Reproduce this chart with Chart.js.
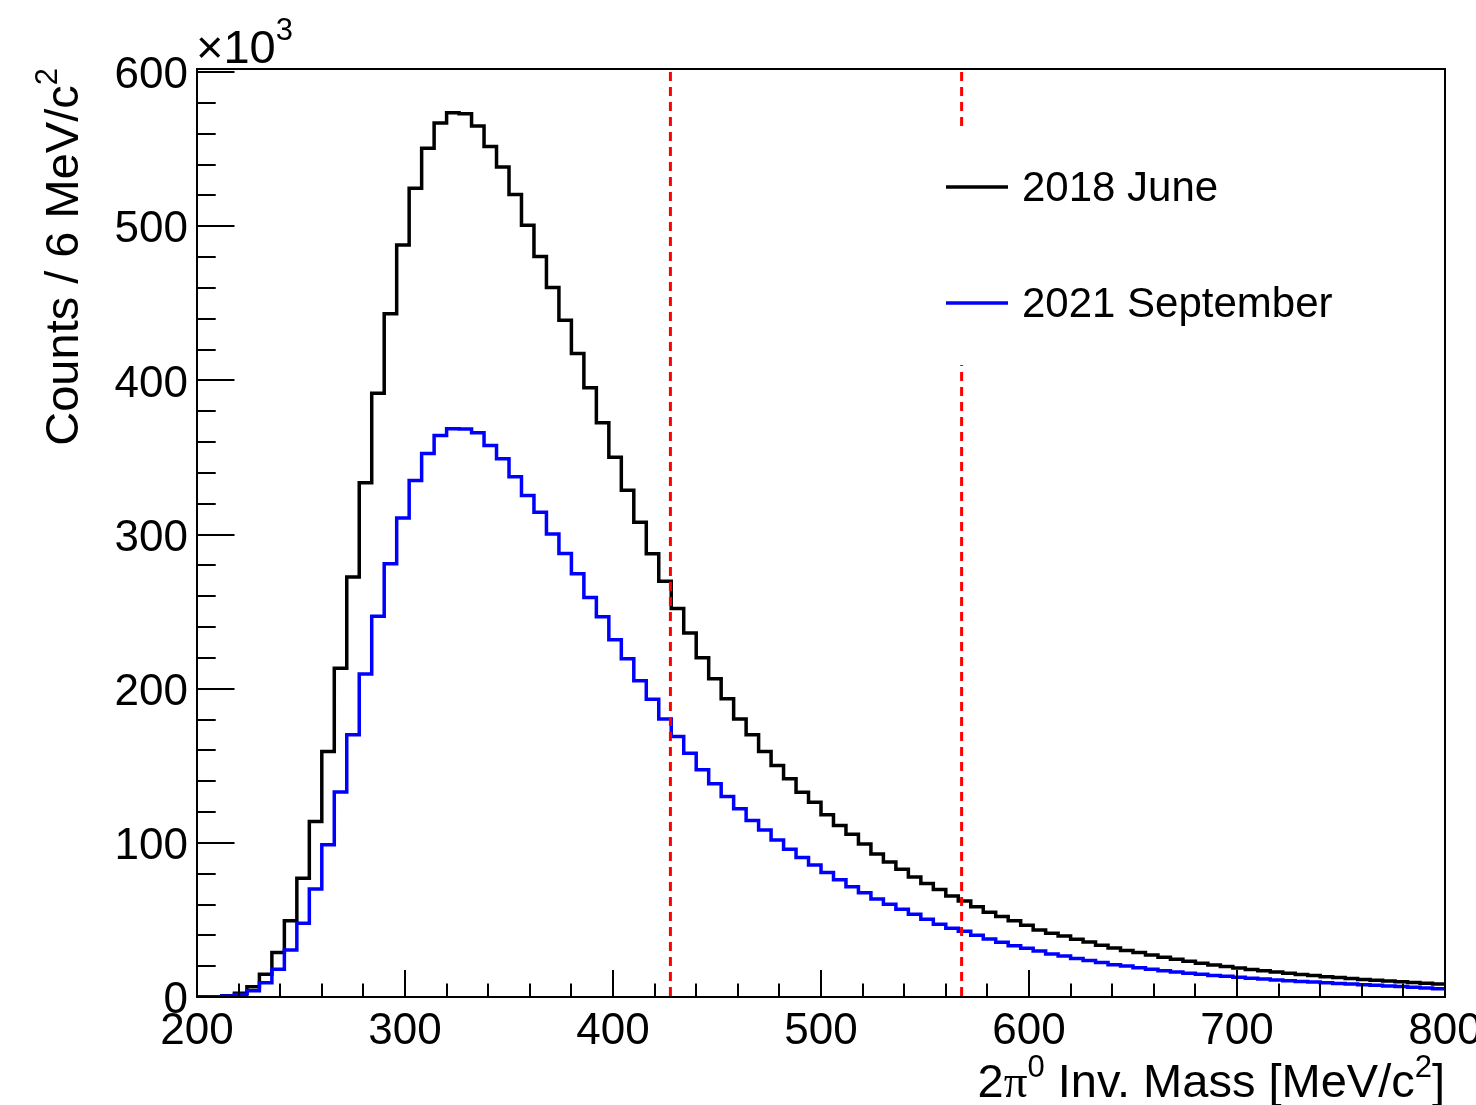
<!DOCTYPE html>
<html><head><meta charset="utf-8">
<script src="https://cdn.jsdelivr.net/npm/chart.js@4.4.1/dist/chart.umd.min.js"></script>
<style>html,body{margin:0;padding:0;background:#fff;}canvas{display:block;}</style>
</head><body>
<canvas id="c" width="1476" height="1105"></canvas>
<script>
// ---- data (counts per 6 MeV/c^2 bin, in units of 10^3) ----
const binStart = 200;
const binWidth = 6;
const june2018 = [0.1, 0.2, 0.8, 2.4, 6.7, 14.7, 28.8, 49.4, 77.1, 113.8,
  159.3, 213.2, 272.5, 333.6, 391.6, 443.3, 487.9, 524.7, 550.6, 567.0,
  573.6, 573.0, 565.0, 551.7, 538.5, 520.6, 500.6, 480.3, 460.2, 439.0,
  417.5, 395.3, 372.5, 350.2, 328.8, 308.0, 287.5, 269.7, 252.0, 236.2,
  220.0, 206.5, 193.5, 180.4, 170.1, 159.3, 150.2, 141.6, 132.9, 126.4,
  118.2, 111.2, 105.6, 99.2, 92.7, 87.5, 82.9, 77.9, 73.6, 69.7,
  65.5, 62.3, 58.6, 55.0, 52.2, 49.4, 46.5, 43.5, 41.3, 39.6,
  37.4, 35.7, 33.6, 31.8, 30.1, 28.8, 27.3, 25.8, 24.5, 23.2,
  21.9, 20.8, 19.8, 18.8, 17.9, 17.0, 16.2, 15.4, 14.6, 13.9,
  13.2, 12.6, 12.0, 11.4, 10.9, 10.4, 9.9, 9.4, 8.9, 8.4];
const sept2021 = [0.05, 0.1, 0.6, 1.7, 4.1, 9.3, 18.0, 30.5, 47.8, 70.1,
  98.7, 133.0, 170.1, 209.5, 247.0, 281.0, 310.8, 335.0, 352.6, 364.3,
  368.6, 368.4, 366.0, 357.8, 349.2, 337.5, 325.3, 314.5, 300.4, 287.7,
  274.5, 259.1, 246.6, 231.8, 219.5, 205.2, 193.1, 180.3, 169.0, 158.2,
  147.4, 138.3, 130.1, 122.1, 114.5, 108.4, 101.9, 95.9, 90.5, 85.7,
  80.7, 76.0, 71.6, 67.7, 63.6, 60.2, 56.9, 53.7, 50.5, 47.2,
  44.6, 42.6, 40.0, 37.7, 35.5, 33.3, 31.6, 29.9, 27.9, 26.6,
  24.9, 23.6, 22.3, 21.0, 20.1, 19.0, 18.0, 17.1, 16.2, 15.4,
  14.7, 14.0, 13.4, 12.8, 12.2, 11.6, 11.1, 10.6, 10.1, 9.7,
  9.3, 8.8, 8.4, 8.0, 7.6, 7.2, 6.8, 6.4, 5.9, 5.4];
const seriesLabels = ['2018 June', '2021 September'];
const cutLines = [427.6, 567.6];
const xTickValues = [200, 300, 400, 500, 600, 700, 800];
const yTickValues = [0, 100, 200, 300, 400, 500, 600];
const xRange = [200, 800];
const yRange = [0, 602];
const minorStep = 20;

// ---- styles ----
const FONT = '"Liberation Sans", Arial, Helvetica, sans-serif';
const colors = ['#000000', '#0000ff'];

function toSteps(vals) {
  const pts = vals.map((v, i) => ({x: binStart + i * binWidth, y: v}));
  pts.push({x: binStart + vals.length * binWidth, y: vals[vals.length - 1]});
  return pts;
}

const datasets = [
  {label: seriesLabels[0], data: toSteps(june2018), borderColor: colors[0], borderWidth: 3.5, stepped: true, pointRadius: 0, fill: false, order: 3},
  {label: seriesLabels[1], data: toSteps(sept2021), borderColor: colors[1], borderWidth: 3.5, stepped: true, pointRadius: 0, fill: false, order: 2}
];
cutLines.forEach(c => datasets.push({
  label: 'cut', data: [{x: c, y: yTickValues[yTickValues.length - 1]}, {x: c, y: 0}],
  borderColor: '#ff0000', borderWidth: 3, borderDash: [9, 6], pointRadius: 0, fill: false, order: 1
}));

function drawSup(ctx, parts, x, y, align) {
  // parts: [text, size, rise, family]
  let widths = parts.map(p => { ctx.font = p[1] + 'px ' + (p[3] || FONT); return ctx.measureText(p[0]).width; });
  let total = widths.reduce((a, b) => a + b, 0);
  let cx = align === 'right' ? x - total : x;
  parts.forEach((p, i) => {
    ctx.font = p[1] + 'px ' + (p[3] || FONT);
    ctx.fillText(p[0], cx, y - p[2]);
    cx += widths[i];
  });
  return total;
}

const rootStyle = {
  id: 'rootStyle',
  afterDatasetsDraw(chart) {
    const ctx = chart.ctx, a = chart.chartArea;
    const xs = chart.scales.x, ys = chart.scales.y;
    ctx.save();
    ctx.strokeStyle = '#000';
    ctx.lineWidth = 2;
    ctx.beginPath();
    for (let v = xRange[0]; v <= xRange[1] + 1e-9; v += minorStep) {
      const px = Math.round(xs.getPixelForValue(v));
      const major = xTickValues.includes(v);
      ctx.moveTo(px, a.bottom);
      ctx.lineTo(px, a.bottom - (major ? 27 : 13.5));
    }
    for (let v = yTickValues[0]; v <= yRange[1] + 1e-9; v += minorStep) {
      const py = Math.round(ys.getPixelForValue(v));
      const major = yTickValues.includes(v);
      ctx.moveTo(a.left, py);
      ctx.lineTo(a.left + (major ? 37.5 : 18.7), py);
    }
    ctx.stroke();
    ctx.lineWidth = 2;
    ctx.strokeRect(a.left, a.top, a.right - a.left, a.bottom - a.top);
    ctx.restore();
  },
  afterDraw(chart) {
    const ctx = chart.ctx;
    ctx.save();
    // legend (white box without border)
    ctx.fillStyle = '#fff';
    ctx.fillRect(925, 126, 435, 239);
    const rows = [187, 303];
    chart.data.datasets.slice(0, 2).forEach((ds, i) => {
      ctx.strokeStyle = ds.borderColor;
      ctx.lineWidth = 3.5;
      ctx.beginPath();
      ctx.moveTo(946, rows[i]);
      ctx.lineTo(1008, rows[i]);
      ctx.stroke();
      ctx.fillStyle = '#000';
      ctx.font = '42px ' + FONT;
      ctx.textBaseline = 'middle';
      ctx.textAlign = 'left';
      ctx.fillText(ds.label, 1022, rows[i] + 2);
    });
    ctx.fillStyle = '#000';
    ctx.textBaseline = 'alphabetic';
    ctx.textAlign = 'left';
    // exponent label
    drawSup(ctx, [['\u00d710', 47, 0], ['3', 31, 23]], 196, 63, 'left');
    // x-axis title
    drawSup(ctx, [['2', 47, 0], ['\u03c0', 47, 0, '"Liberation Serif", serif'], ['0', 31, 20], [' Inv. Mass [MeV/c', 47, 0], ['2', 31, 20], [']', 47, 0]], 1445, 1097, 'right');
    // y-axis title (rotated)
    ctx.translate(78, 68);
    ctx.rotate(-Math.PI / 2);
    drawSup(ctx, [['Counts / 6 MeV/c', 47, 0], ['2', 31, 21]], 0, 0, 'right');
    ctx.restore();
  }
};

new Chart(document.getElementById('c'), {
  type: 'line',
  data: {datasets},
  options: {
    responsive: false,
    animation: false,
    devicePixelRatio: 1,
    layout: {padding: {left: 0, top: 69, right: 31, bottom: 0}},
    plugins: {legend: {display: false}, tooltip: {enabled: false}},
    elements: {line: {tension: 0}},
    scales: {
      x: {
        type: 'linear', min: xRange[0], max: xRange[1],
        grid: {display: false}, border: {display: false},
        ticks: {color: '#000', font: {family: FONT, size: 44}, padding: 0, autoSkip: false, maxRotation: 0,
          callback: v => String(v)},
        afterBuildTicks: s => { s.ticks = xTickValues.map(v => ({value: v})); },
        afterFit: s => { s.height = 108; s.paddingLeft = 0; s.paddingRight = 0; }
      },
      y: {
        type: 'linear', min: yRange[0], max: yRange[1],
        grid: {display: false}, border: {display: false},
        ticks: {color: '#000', font: {family: FONT, size: 44}, padding: 1, labelOffset: 4, callback: v => String(v)},
        afterBuildTicks: s => { s.ticks = yTickValues.map(v => ({value: v})); },
        afterFit: s => { s.width = 197; s.paddingTop = 0; s.paddingBottom = 0; }
      }
    }
  },
  plugins: [rootStyle]
});
</script>
</body></html>
